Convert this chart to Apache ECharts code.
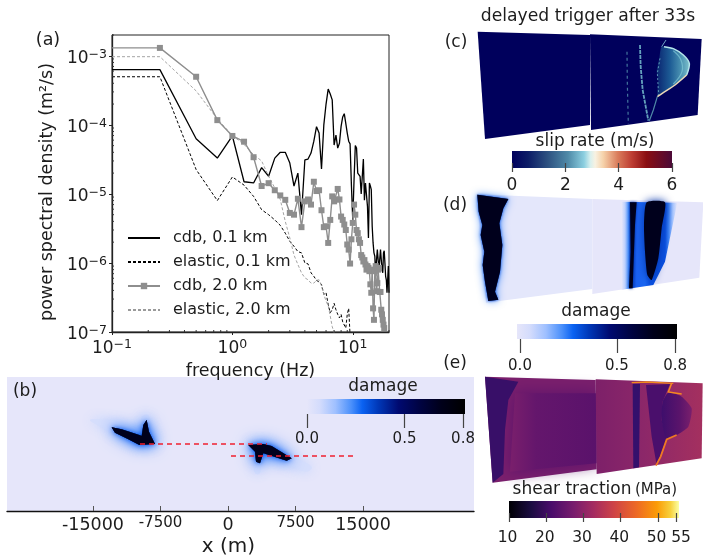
<!DOCTYPE html>
<html><head><meta charset="utf-8">
<style>html,body{margin:0;padding:0;background:#fff}#c{width:703px;height:559px}</style>
<script src="https://cdn.jsdelivr.net/npm/echarts@6/dist/echarts.min.js"></script>
</head><body><div id="c"></div>
<script>
const FONT='"DejaVu Sans"', INK='#1c1c1c';
// ---------- panel (a) spectra ----------
const freq=[0.1,0.25,0.5,0.75,1,1.25,1.5,1.75,2,2.25,2.5,2.75,3,3.25,3.5,3.75,4,4.25,4.5,4.75,5,5.25,5.5,5.75,6,6.25,6.5,6.75,7,7.25,7.5,7.75,8,8.25,8.5,8.75,9,9.25,9.5,9.75,10,10.25,10.5,10.75,11,11.25,11.5,11.75,12,12.25,12.5,12.75,13,13.25,13.5,13.75,14,14.25,14.5,14.75,15,15.25,15.5,15.75,16,16.25,16.5,16.75,17,17.25,17.5,17.75,18,18.25,18.5,18.75,19,19.25,19.5,19.75,20];
const cdb01=[6.3e-4,6.3e-4,6.3e-5,3.3e-5,6.9e-5,1.5e-5,1.44e-5,2.4e-5,1.8e-5,3.3e-5,4e-5,4e-5,2.8e-5,1.3e-5,2e-5,5e-6,3.1e-5,3.2e-5,3.9e-5,5.8e-5,9.4e-5,7.6e-5,2.3e-5,1e-4,2e-4,3.3e-4,2.8e-4,2.3e-4,5.1e-5,7.1e-5,4.6e-5,5.4e-5,9.5e-5,1.3e-4,1.45e-4,1.05e-4,7.6e-5,5.8e-5,5.3e-5,1.3e-5,4.2e-6,1.6e-5,5e-5,4.6e-5,2e-5,2e-5,1.8e-5,1e-5,1e-5,3.2e-5,8.1e-6,1.44e-5,1.5e-5,6.6e-6,2.3e-6,1.44e-5,1.3e-5,1.15e-5,3.4e-6,1.95e-6,1.4e-6,1.25e-6,6.4e-7,1.1e-6,1.56e-6,1.56e-6,8e-7,8.5e-7,1.56e-6,1.65e-6,8e-7,7.2e-7,1.4e-6,1.5e-6,1e-6,6.4e-7,5.7e-7,3.7e-7,5.7e-7,9e-7,3.7e-7];
const ela01=[4.97e-4,4.97e-4,2.25e-5,8e-6,1.76e-5,1.34e-5,9.2e-6,5.9e-6,5e-6,4.2e-6,3.5e-6,2.7e-6,2.06e-6,1.74e-6,1.46e-6,1.4e-6,1e-6,9.7e-7,7.2e-7,6.4e-7,5.6e-7,5.3e-7,4.9e-7,3.5e-7,3.7e-7,2.5e-7,1.9e-7,2.1e-7,2.6e-7,2.1e-7,1.8e-7,1.6e-7,1.8e-7,1.4e-7,1.35e-7,1.14e-7,1.8e-7,2.2e-7,9e-8];
const cdb20=[1.3e-3,1.3e-3,4.97e-4,1.17e-4,6.9e-5,5.7e-5,3.4e-5,1.3e-5,1.43e-5,1.13e-5,9.5e-6,8.2e-6,5.3e-6,5e-6,8.5e-6,3.3e-6,7.8e-6,8.3e-6,7e-6,1.5e-5,1.1e-5,1.13e-5,5.8e-6,3.3e-6,3.4e-6,1.95e-6,4.2e-6,9.2e-6,7.8e-6,8.3e-6,1.18e-5,8.3e-6,4.7e-6,4.2e-6,3.6e-6,3e-6,1.85e-6,1.56e-6,9.8e-7,2.2e-6,3.8e-6,7e-6,5e-6,3e-6,2.7e-6,2.2e-6,1.95e-6,1.3e-6,1.2e-6,1.05e-6,1.1e-6,9.5e-7,8e-7,9e-7,8.5e-7,7.6e-7,4.9e-7,3.7e-7,8e-7,2.2e-7,1.5e-7,7.6e-7,9e-7,3.9e-7,5.1e-7,8e-7,8.5e-7,3.8e-7,3.8e-7,2.1e-7,1.8e-7,1.5e-7,1.28e-7,1.14e-7];
const ela20=[9.7e-4,9.7e-4,3.1e-4,1.22e-4,7e-5,5.2e-5,3.7e-5,3e-5,1.8e-5,1.22e-5,8.3e-6,4e-6,2.3e-6,1.3e-6,9.5e-7,7.2e-7,6.1e-7,5.7e-7,5.1e-7,5.1e-7,5.6e-7,5.7e-7,4.6e-7,3.5e-7,2.8e-7,2.4e-7,1.7e-7,1.2e-7,9.7e-8];
const xMajor=[0.1,1,10], yMajor=[1e-7,1e-6,1e-5,1e-4,1e-3];
const xMinor=[0.2,0.3,0.4,0.5,0.6,0.7,0.8,0.9,2,3,4,5,6,7,8,9,20];
const yMinor=[2e-7,3e-7,4e-7,5e-7,6e-7,7e-7,8e-7,9e-7,2e-6,3e-6,4e-6,5e-6,6e-6,7e-6,8e-6,9e-6,2e-5,3e-5,4e-5,5e-5,6e-5,7e-5,8e-5,9e-5,2e-4,3e-4,4e-4,5e-4,6e-4,7e-4,8e-4,9e-4,2e-3];
// ---------- panel (b) map, metres ----------
const bTicks=[-15000,-7500,0,7500,15000];
const faultA=[[-9778,0],[4333,0]], faultB=[[333,-1333],[14222,-1333]];
const bHaloL=[[-15335,2667],[-13483,2667],[-11631,2296],[-9779,1741],[-9593,3037],[-8853,3222],[-8482,1741],[-7741,0],[-9779,-370],[-11631,444],[-13853,1741]];
const bCoreL=[[-12927,1852],[-11816,1630],[-9593,926],[-9408,2111],[-9038,2667],[-8778,1370],[-8112,0],[-9853,-111],[-11075,519],[-12557,1259]];
const bHaloR=[[2259,0],[4296,148],[5778,-667],[7260,-1482],[9297,-2519],[8741,-3074],[6519,-2333],[3926,-1593],[3556,-3259],[3000,-3259],[2815,-1778],[2630,-852]];
const bCoreR=[[2259,-111],[3926,0],[4852,-222],[7075,-1593],[6519,-1852],[3926,-1037],[3556,-2148],[3111,-1963],[3000,-852]];
// ---------- colour bar ticks and ramps ----------
const damageTicks=[0,0.5,0.8], slipTicks=[0,2,4,6], shearTicks=[10,20,30,40,50,55], shearLabels=[10,20,30,40,50];
const damageRamp=[[0,'#e6e6fa'],[0.08,'#d4dcfc'],[0.18,'#9fc0ff'],[0.28,'#4b90fb'],[0.35,'#0a62f2'],[0.45,'#0038b8'],[0.58,'#000a70'],[0.72,'#000340'],[0.85,'#00001a'],[1,'#000000']];
const slipRamp=[[0,'#00005c'],[0.1,'#0c1c66'],[0.22,'#2c5080'],[0.35,'#4f8aa8'],[0.45,'#8ccfe0'],[0.49,'#d8f0ee'],[0.52,'#f8f2e2'],[0.57,'#f6d2aa'],[0.66,'#da7d5c'],[0.75,'#bd3c32'],[0.84,'#8a0e12'],[1,'#4c0a38']];
const shearRamp=[[0,'#000004'],[0.13,'#1b0c41'],[0.25,'#4a0c6b'],[0.38,'#781c6d'],[0.5,'#a52c60'],[0.62,'#cf4446'],[0.75,'#ed6925'],[0.87,'#fb9b06'],[0.95,'#f7d13d'],[1,'#fcffa4']];
const dBandRamp=[[0,'#e6e6fa'],[0.06,'#bcd0fd'],[0.12,'#4b90fb'],[0.16,'#0038b8'],[0.27,'#1a60f0'],[0.42,'#1a66f2'],[0.5,'#0a50e0'],[0.78,'#0a50e0'],[0.84,'#3a80f4'],[0.92,'#a8c6ff'],[1,'#e6e6fa']];
const eInnerRamp=[[0,'#7a1f6c'],[0.3,'#64166c'],[1,'#5a126b']];
// ---------- panels (c,d,e): outlines on the faces, in panel units ----------
const cFaceL=[[113,95],[450,105],[450,375],[135,417]], cFaceR=[[450,103],[785,117],[773,345],[453,390]];
const cLens=[[665,140],[700,145],[730,165],[748,190],[740,225],[705,255],[670,278],[652,290],[655,240],[650,215],[658,175]];
const cArc=[[672,140],[700,146],[730,165],[748,190],[740,225]], cArcLow=[[740,225],[705,255],[670,278],[652,290]];
const cTail=[[652,290],[640,330],[628,362]], cTop=[[665,140],[678,120]];
const cInner=[[700,152],[722,178],[726,215],[700,252]];
const cStreak1=[[561,155],[562,250],[565,372]], cStreak2=[[600,135],[602,200],[608,270],[625,362]], cStreak3=[[660,175],[652,220],[656,285]];
const dFaceL=[[110,28],[457,42],[457,312],[138,353]], dFaceR=[[457,42],[790,52],[778,278],[457,327]];
const dCoreL=[[112,29],[205,42],[190,70],[178,115],[187,180],[180,260],[165,320],[175,344],[145,348],[141,325],[135,290],[128,240],[133,200],[122,150],[127,120],[116,80]];
const dBand=[[545,50],[712,53],[700,110],[675,230],[640,300],[545,314]];
const dStrip=[[570,52],[590,52],[585,120],[582,200],[578,310],[567,310],[572,200]];
const dBlob=[[620,52],[675,52],[665,130],[655,220],[635,285],[622,270],[615,200],[612,120]];
const eFaceL=[[135,20],[467,30],[470,298],[158,338]], eFaceR=[[467,28],[788,40],[785,265],[470,312]];
const eEdgeL=[[135,20],[235,35],[205,90],[195,180],[190,312],[158,338]];
const eInnerL=[[225,70],[470,70],[470,280],[210,305]];
const eStrip=[[578,42],[600,42],[597,292],[580,295]];
const eMid=[[618,45],[690,42],[668,95],[665,150],[680,208],[650,285],[635,200]];
const eLens=[[685,68],[725,80],[755,115],[745,170],[710,195],[680,208],[665,150],[668,95]];
const eTop=[[575,38],[620,36],[700,40]], eUpper=[[695,40],[685,66],[725,72]], eLower=[[710,195],[680,208],[662,260],[648,287]];
// ---------- texts ----------
const panelTexts=[['(a)',48,40,17.5],['(b)',25,392,17],['(c)',456,43,17],['(d)',455,206,17],['(e)',455,364,17],
 ['delayed trigger after 33s',588,17,17.2],['slip rate (m/s)',595,142,17],['damage',596,312,17],['damage',383,387,17],['shear traction',572,490,17],['(MPa)',656,490,15],['55',681,538,15.5]];

const grad=(stops,dir)=>({type:'linear',x:0,y:0,x2:dir==='v'?0:1,y2:dir==='v'?1:0,colorStops:stops.map(s=>({offset:s[0],color:s[1]}))});
function layers(gi,items){return{type:'custom',coordinateSystem:'cartesian2d',xAxisIndex:gi,yAxisIndex:gi,silent:true,z:2,
  data:items.map((_,i)=>[i,0]),
  renderItem:(p,api)=>{const it=items[p.dataIndex],pts=it.pts.map(q=>api.coord(q));
    return{type:it.line?'polyline':'polygon',shape:{points:pts,smooth:it.smooth||0},
      style:{fill:it.line?null:it.fill,stroke:it.line?it.stroke:null,lineWidth:it.lw||1,lineDash:it.dash||null,opacity:it.op==null?1:it.op,shadowBlur:it.blur||0,shadowColor:it.blurColor||it.fill||it.stroke}}}}}
function hiddenAxes(g,maxX,maxY,inv){return{x:{type:'value',gridIndex:g,min:maxX[0],max:maxX[1],show:false},y:{type:'value',gridIndex:g,min:maxY[0],max:maxY[1],inverse:!!inv,show:false}}}
function barAxes(g,min,max,ticks,labels,digits,offset,margin,fs,pad){return{
  x:{type:'value',gridIndex:g,min,max,position:'bottom',offset,z:5,axisLine:{show:false,onZero:false},splitLine:{show:false},
     axisTick:{show:true,customValues:ticks,length:14+offset,lineStyle:{color:'#444',width:1.2}},
     axisLabel:{customValues:labels,margin,padding:[0,pad||0,0,0],fontFamily:FONT,fontSize:fs,color:INK,hideOverlap:false,formatter:v=>Number(v).toFixed(digits)}},
  y:{type:'value',gridIndex:g,min:0,max:1,show:false}}}
function barSeries(g,ramp,min,max){return{type:'custom',coordinateSystem:'cartesian2d',xAxisIndex:g,yAxisIndex:g,silent:true,z:2,data:[[min,0]],
  renderItem:(p,api)=>{const a=api.coord([min,1]),b=api.coord([max,0]);return{type:'rect',shape:{x:a[0],y:a[1],width:b[0]-a[0],height:b[1]-a[1]},style:{fill:grad(ramp)}}}}}
function tickSeries(vals,axis){return{type:'custom',coordinateSystem:'cartesian2d',xAxisIndex:0,yAxisIndex:0,silent:true,z:4,data:vals.map(v=>[axis==='x'?v:0.1,axis==='x'?1e-7:v]),
  renderItem:(p,api)=>{const c=api.coord([api.value(0),api.value(1)]);const e=axis==='x'?[c[0],c[1]-2]:[c[0]+2,c[1]];return{type:'line',shape:{x1:c[0],y1:c[1],x2:e[0],y2:e[1]},style:{stroke:'#333',lineWidth:1}}}}}
const pairs=(ys,noMark)=>ys.map((y,i)=>i===0&&noMark?{value:[freq[i],y],symbol:'none'}:[freq[i],y]);
const pow=v=>{const e=Math.round(Math.log10(v));return '10{s|'+String(e).replace('-','\u2212')+'}'};
const powRich={s:{fontFamily:FONT,fontSize:12.5,color:INK,padding:[0,0,9,0]}};
const bSize={'-15000':'a','15000':'a','-7500':'b','7500':'b','0':'a'};

const A1=hiddenAxes(3,[0,789],[0,570],true),A2=hiddenAxes(5,[0,789],[0,570],true),A3=hiddenAxes(7,[0,789],[0,567],true);
const B0=barAxes(2,0,0.81,damageTicks,damageTicks,1,0,18,15),B1=barAxes(4,0,6,slipTicks,slipTicks,0,-5,14,17),B2=barAxes(6,-0.0155,0.81,damageTicks,damageTicks,1,0,20,15),B3=barAxes(8,10,55.64,shearTicks,shearLabels,0,-5,17,15.5,3);

const option={animation:false,backgroundColor:'#fff',textStyle:{fontFamily:FONT},
 grid:[
  {left:112,top:35,width:277,height:297,show:true,borderColor:'#222',borderWidth:1,backgroundColor:'#fff'},
  {left:7,top:377,width:467,height:134,show:true,borderWidth:0,backgroundColor:'#e6e6fa'},
  {left:307,top:399,width:158,height:15},
  {left:440,top:0,width:263,height:190},
  {left:512,top:151,width:160,height:17},
  {left:440,top:185,width:263,height:190},
  {left:517,top:324,width:160,height:15},
  {left:440,top:370,width:263,height:189},
  {left:509,top:501,width:170,height:17}],
 xAxis:[
  {type:'log',gridIndex:0,min:0.1,max:20,logBase:10,splitLine:{show:false},minorTick:{show:false},axisLine:{lineStyle:{color:'#222',width:1.3}},
   axisTick:{customValues:xMajor,length:3,lineStyle:{color:'#222'}},
   axisLabel:{customValues:xMajor,margin:6,fontFamily:FONT,fontSize:17,color:INK,formatter:pow,rich:powRich},
   name:'frequency (Hz)',nameLocation:'middle',nameGap:17,nameTextStyle:{fontFamily:FONT,fontSize:17.5,color:INK}},
  {type:'value',gridIndex:1,min:-24555,max:27333,axisLine:{onZero:false,lineStyle:{color:'#111',width:1.4}},splitLine:{show:false},
   axisTick:{customValues:bTicks,inside:true,length:5,lineStyle:{color:'#555',width:1}},
   axisLabel:{customValues:bTicks,margin:5,fontFamily:FONT,color:INK,hideOverlap:false,formatter:v=>'{'+bSize[String(Math.round(v))]+'|'+Math.round(v)+'}',
     rich:{a:{fontFamily:FONT,fontSize:17.5,color:INK},b:{fontFamily:FONT,fontSize:15,color:INK}}},
   name:'x (m)',nameLocation:'middle',nameGap:26,nameTextStyle:{fontFamily:FONT,fontSize:20,color:INK,padding:[0,24,0,0]}},
  B0.x,A1.x,B1.x,A2.x,B2.x,A3.x,B3.x],
 yAxis:[
  {type:'log',gridIndex:0,min:1e-7,max:2e-3,logBase:10,splitLine:{show:false},minorTick:{show:false},axisLine:{lineStyle:{color:'#222',width:1.3}},
   axisTick:{customValues:yMajor,length:3,lineStyle:{color:'#222'}},
   axisLabel:{customValues:yMajor,margin:5,padding:[6,0,0,0],fontFamily:FONT,fontSize:17,color:INK,formatter:pow,rich:powRich},
   name:'power spectral density (m\u00b2/s)',nameLocation:'middle',nameGap:56,nameTextStyle:{fontFamily:FONT,fontSize:17.5,color:INK,padding:[0,17,0,0]}},
  {type:'value',gridIndex:1,min:-7444,max:7444,show:false},
  B0.y,A1.y,B1.y,A2.y,B2.y,A3.y,B3.y],
 legend:{left:127,top:230,orient:'vertical',itemWidth:32,itemHeight:8,itemGap:8,padding:0,selectedMode:false,
   textStyle:{fontFamily:FONT,fontSize:16,color:INK,padding:[0,0,0,8]},
   data:[{name:'cdb, 0.1 km',itemStyle:{opacity:0}},{name:'elastic, 0.1 km',itemStyle:{opacity:0}},{name:'cdb, 2.0 km'},{name:'elastic, 2.0 km',itemStyle:{opacity:0}}]},
 graphic:panelTexts.map(t=>({type:'text',x:t[1],y:t[2],z:50,style:{text:t[0],fontFamily:FONT,fontSize:t[3],fill:INK,align:'center',verticalAlign:'middle'}})),
 series:[
  {name:'cdb, 0.1 km',type:'line',xAxisIndex:0,yAxisIndex:0,data:pairs(cdb01),symbol:'none',lineStyle:{color:'#000',width:1.3},itemStyle:{color:'#000'},z:3},
  {name:'elastic, 0.1 km',type:'line',xAxisIndex:0,yAxisIndex:0,data:pairs(ela01),symbol:'none',lineStyle:{color:'#000',width:1,type:[3,2]},itemStyle:{color:'#000'},z:3},
  {name:'cdb, 2.0 km',type:'line',xAxisIndex:0,yAxisIndex:0,data:pairs(cdb20,true),symbol:'rect',symbolSize:6,lineStyle:{color:'#8e8e8e',width:1.4},itemStyle:{color:'#8e8e8e'},z:4},
  {name:'elastic, 2.0 km',type:'line',xAxisIndex:0,yAxisIndex:0,data:pairs(ela20),symbol:'none',lineStyle:{color:'#9a9a9a',width:0.9,type:[3,2]},itemStyle:{color:'#9a9a9a'},z:3},
  tickSeries(xMinor,'x'),tickSeries(yMinor,'y'),
  layers(1,[
   {pts:bHaloL,fill:'#d6defc',smooth:0.4,blur:12,blurColor:'#c4d4fd'},
   {pts:bHaloR,fill:'#d6defc',smooth:0.4,blur:12,blurColor:'#c4d4fd'},
   {pts:bCoreL,fill:'#00001c',blur:18,blurColor:'#3f88fb'},
   {pts:bCoreR,fill:'#00001c',blur:18,blurColor:'#3f88fb'},
   {pts:bCoreL,fill:'#00001c',blur:12,blurColor:'#2a78fa'},
   {pts:bCoreR,fill:'#00001c',blur:12,blurColor:'#2a78fa'},
   {pts:bCoreL,fill:'#00001c',blur:5,blurColor:'#0050e8'},
   {pts:bCoreR,fill:'#00001c',blur:5,blurColor:'#0050e8'}]),
  {type:'line',xAxisIndex:1,yAxisIndex:1,data:faultA,symbol:'none',z:6,lineStyle:{color:'#f02030',width:1.3,type:[5,4]},silent:true},
  {type:'line',xAxisIndex:1,yAxisIndex:1,data:faultB,symbol:'none',z:6,lineStyle:{color:'#f02030',width:1.3,type:[5,4]},silent:true},
  barSeries(2,damageRamp,0,0.81),
  layers(3,[
   {pts:cFaceL,fill:'#00005c'},{pts:cFaceR,fill:'#00005c'},
   {line:true,pts:cStreak1,stroke:'#4f8aa8',lw:1.2,dash:[3,3],op:0.85},
   {line:true,pts:cStreak2,stroke:'#6fb3c8',lw:1.8,dash:[4,1],op:0.9},
   {pts:cLens,fill:grad([[0,'#0a2470'],[0.4,'#1c5a94'],[0.75,'#4b93b2'],[1,'#7cc0cc']]),smooth:0.2},
   {line:true,pts:cStreak3,stroke:'#6fb3c8',lw:1,dash:[2,2],op:0.8},
   {line:true,pts:cInner,stroke:'#7fc6d4',lw:1.2,smooth:0.4,op:0.7},
   {line:true,pts:cArc,stroke:'#b5e5ea',lw:1.5,smooth:0.3},
   {line:true,pts:cArcLow,stroke:'#ecd8b8',lw:1.5,smooth:0.2},
   {line:true,pts:cTail,stroke:'#4f8aa8',lw:1.2},{line:true,pts:cTop,stroke:'#8ccfe0',lw:0.8}]),
  barSeries(4,slipRamp,0,6),
  layers(5,[
   {pts:dFaceL,fill:'#e4e7fb'},{pts:dFaceR,fill:'#e6e6fa'},
   {pts:dCoreL,fill:'#00001c',blur:9,blurColor:'#3f88fb'},
   {pts:dCoreL,fill:'#00001c',blur:3,blurColor:'#0048d8'},
   {pts:dBand,fill:grad(dBandRamp)},
   {pts:dStrip,fill:'#00001c',blur:3,blurColor:'#0030a8'},
   {pts:dBlob,fill:'#00001c',smooth:0.2,blur:8,blurColor:'#0030a8'}]),
  barSeries(6,damageRamp,-0.0155,0.81),
  layers(7,[
   {pts:eFaceL,fill:'#7a1f6c'},
   {pts:eInnerL,fill:grad(eInnerRamp),blur:16,blurColor:'#5b126b'},
   {pts:eEdgeL,fill:'#380f68'},
   {pts:eFaceR,fill:grad([[0,'#7d2069'],[0.45,'#8c2769'],[1,'#a4305f']])},
   {pts:eStrip,fill:'#34106c'},
   {pts:eMid,fill:'#4a0f6c'},
   {pts:eLens,fill:grad([[0,'#3e0e6c'],[0.6,'#5a146b'],[1,'#7a1f6c']]),smooth:0.2},
   {line:true,pts:eTop,stroke:'#f08a20',lw:1.4},{line:true,pts:eUpper,stroke:'#f58a20',lw:1.5},{line:true,pts:eLower,stroke:'#f07a22',lw:1.8}]),
  barSeries(8,shearRamp,10,55.64)
 ]};
echarts.init(document.getElementById('c'),null,{renderer:'canvas'}).setOption(option);
</script></body></html>
